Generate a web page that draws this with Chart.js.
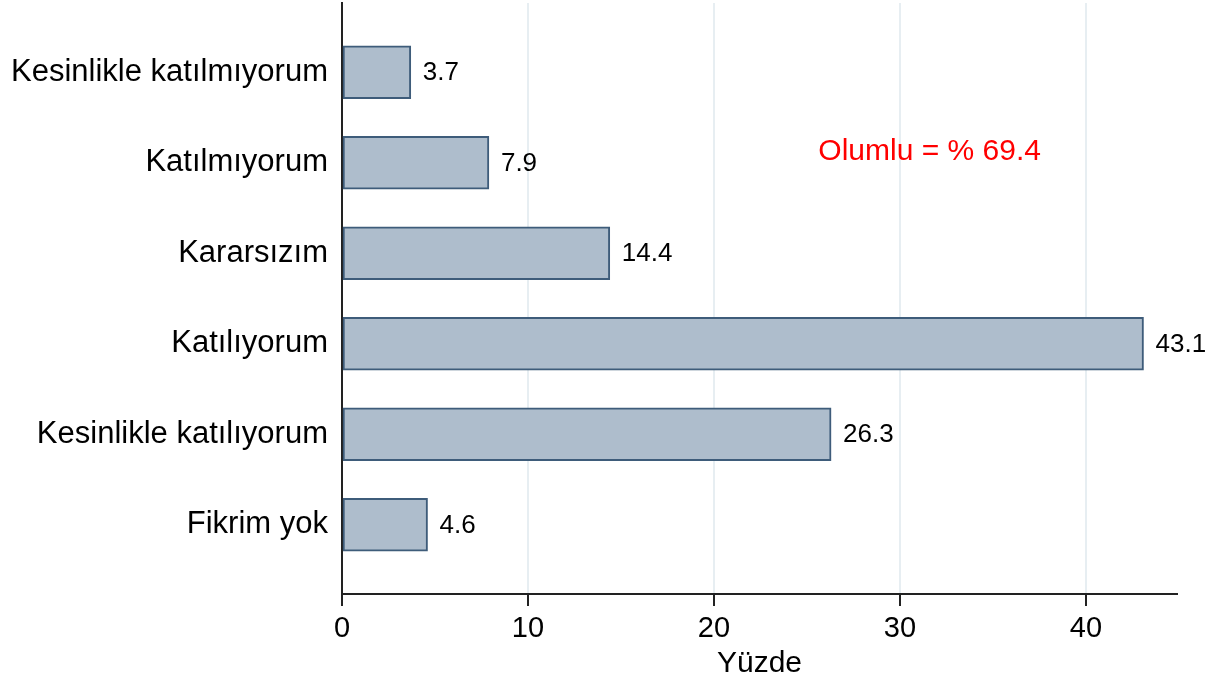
<!DOCTYPE html>
<html>
<head>
<meta charset="utf-8">
<script src="https://cdn.jsdelivr.net/npm/chart.js@4/dist/chart.umd.min.js"></script>
<style>
  html, body { margin: 0; padding: 0; background: #fff; }
  #wrap { width: 1218px; height: 682px; }
</style>
</head>
<body>
<div id="wrap"><canvas id="c" width="1218" height="682"></canvas></div>
<script>
"use strict";

// kategoriler (yukarıdan aşağıya) ve yüzdeler
const categories = [
  "Kesinlikle katılmıyorum",
  "Katılmıyorum",
  "Kararsızım",
  "Katılıyorum",
  "Kesinlikle katılıyorum",
  "Fikrim yok",
];
const percents = [3.7, 7.9, 14.4, 43.1, 26.3, 4.6];
const xTicks = [0, 10, 20, 30, 40];
const axisTitle = "Yüzde";
const note = "Olumlu = % 69.4";

const FONT = "'Liberation Sans', Arial, sans-serif";

// bar sonuna değer etiketi + kırmızı not
const labelPlugin = {
  id: "labels",
  afterDatasetsDraw(chart) {
    const { ctx, scales } = chart;
    const meta = chart.getDatasetMeta(0);
    ctx.save();
    ctx.font = "26px " + FONT;
    ctx.fillStyle = "#000";
    ctx.textBaseline = "middle";
    ctx.textAlign = "left";
    meta.data.forEach((bar, i) => {
      ctx.fillText(percents[i].toFixed(1), bar.x + 12, bar.y + 1);
    });
    ctx.font = "30px " + FONT;
    ctx.fillStyle = "#ff0000";
    ctx.textAlign = "center";
    ctx.fillText(note, scales.x.getPixelForValue(31.6), scales.y.getPixelForValue(0.88));
    ctx.restore();
  },
};

new Chart(document.getElementById("c"), {
  type: "bar",
  data: {
    datasets: [{
      data: percents.map((v, i) => ({ x: v, y: i })),
      backgroundColor: "#aebdcc",
      borderColor: "#3e5c7a",
      borderWidth: 2,
      borderSkipped: false,
      barThickness: 53,
    }],
  },
  options: {
    indexAxis: "y",
    responsive: false,
    animation: false,
    layout: { padding: { top: 3, right: 41, left: 0, bottom: 0 } },
    plugins: { legend: { display: false }, tooltip: { enabled: false } },
    scales: {
      y: {
        type: "linear",
        reverse: true,
        offset: false,
        min: -0.765,
        max: 5.765,
        afterBuildTicks: (s) => { s.ticks = categories.map((_, i) => ({ value: i })); },
        afterFit: (s) => { s.width = 342; s.paddingTop = 0; s.paddingBottom = 0; },
        grid: { color: "rgba(0,0,0,0)", drawTicks: false, offset: false },
        border: { display: true, color: "#222", width: 2 },
        ticks: {
          padding: 14,
          color: "#000",
          font: { family: FONT, size: 31 },
          callback: (v) => categories[v] ?? "",
        },
      },
      x: {
        type: "linear",
        min: 0,
        max: 44.9,
        afterBuildTicks: (s) => { s.ticks = xTicks.map((v) => ({ value: v })); },
        afterFit: (s) => { s.height = 88; s.paddingLeft = 0; s.paddingRight = 0; },
        grid: { color: "#e7eef2", lineWidth: 2, tickColor: "#222", tickLength: 12, tickWidth: 2 },
        border: { display: true, color: "#222", width: 2 },
        ticks: {
          padding: 6,
          color: "#000",
          maxRotation: 0,
          font: { family: FONT, size: 29 },
        },
        title: {
          display: true,
          text: axisTitle,
          color: "#000",
          padding: { top: -4, bottom: 0 },
          font: { family: FONT, size: 30 },
        },
      },
    },
  },
  plugins: [labelPlugin],
});
</script>
</body>
</html>
